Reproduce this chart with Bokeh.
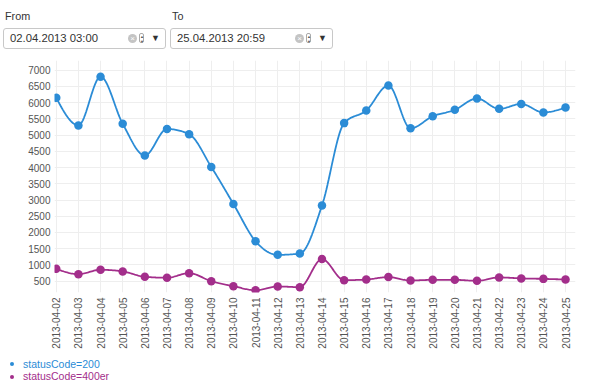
import numpy as np
import pandas as pd
from bokeh.plotting import figure
from bokeh.models import FixedTicker, DatetimeTickFormatter, Range1d, Div, ColumnDataSource
from bokeh.layouts import column
from bokeh.embed import file_html
from bokeh.resources import INLINE

# ---------------- data ----------------
dates = ["2013-04-02", "2013-04-03", "2013-04-04", "2013-04-05", "2013-04-06", "2013-04-07",
         "2013-04-08", "2013-04-09", "2013-04-10", "2013-04-11", "2013-04-12", "2013-04-13",
         "2013-04-14", "2013-04-15", "2013-04-16", "2013-04-17", "2013-04-18", "2013-04-19",
         "2013-04-20", "2013-04-21", "2013-04-22", "2013-04-23", "2013-04-24", "2013-04-25"]
status200 = [6150, 5300, 6800, 5350, 4370, 5190, 5030, 4020, 2880, 1730, 1310, 1350,
             2830, 5370, 5760, 6530, 5210, 5580, 5780, 6130, 5810, 5960, 5700, 5850]
status400 = [880, 715, 850, 800, 635, 605, 745, 500, 345, 220, 335, 315,
             1180, 530, 550, 625, 520, 540, 540, 510, 615, 585, 570, 550]
y_ticks = [500, 1000, 1500, 2000, 2500, 3000, 3500, 4000, 4500, 5000, 5500, 6000, 6500, 7000]
series_names = ["statusCode=200", "statusCode=400er"]
from_text = "02.04.2013 03:00"
to_text = "25.04.2013 20:59"

BLUE = "#2b8cd6"
PURPLE = "#a32e8b"
FONT = "Liberation Sans"
DAY = 86400000.0


def monotone_x(xs, ys, n=20):
    """d3 curveMonotoneX style sampling."""
    x = np.asarray(xs, float)
    y = np.asarray(ys, float)
    h = np.diff(x)
    s = np.diff(y) / h
    t = np.zeros(len(x))
    for i in range(1, len(x) - 1):
        h0, h1 = h[i - 1], h[i]
        s0, s1 = s[i - 1], s[i]
        p = (s0 * h1 + s1 * h0) / (h0 + h1)
        t[i] = (np.sign(s0) + np.sign(s1)) * min(abs(s0), abs(s1), 0.5 * abs(p))
    t[0] = (3 * s[0] - t[1]) / 2
    t[-1] = (3 * s[-1] - t[-2]) / 2
    ox, oy = [], []
    for i in range(len(x) - 1):
        u = np.linspace(0, 1, n, endpoint=(i == len(x) - 2))
        hh = h[i]
        h00 = 2 * u**3 - 3 * u**2 + 1
        h10 = u**3 - 2 * u**2 + u
        h01 = -2 * u**3 + 3 * u**2
        h11 = u**3 - u**2
        ox.extend(x[i] + u * hh)
        oy.extend(h00 * y[i] + h10 * hh * t[i] + h01 * y[i + 1] + h11 * hh * t[i + 1])
    return np.array(ox), np.array(oy)


xt = (pd.to_datetime(dates).astype("int64") // 10**6).astype(float).to_numpy()

p = figure(width=598, height=304, x_axis_type="datetime", output_backend="svg",
           toolbar_location=None, min_border_left=54, min_border_right=23,
           min_border_top=8, min_border_bottom=64, margin=0)
p.x_range = Range1d(xt[0] - 0.08 * DAY, xt[-1] + 0.45 * DAY)
p.y_range = Range1d(150, 7300)
p.outline_line_color = None
p.background_fill_color = "white"
p.border_fill_color = "white"

for vals, col in [(status200, BLUE), (status400, PURPLE)]:
    cx, cy = monotone_x(xt, vals)
    p.line(cx, cy, line_color=col, line_width=1.8)
    src = ColumnDataSource(dict(x=xt, y=vals))
    p.scatter("x", "y", source=src, size=8.5, fill_color=col, line_color=col, line_width=0)

# axes
xa = p.xaxis[0]
xa.ticker = FixedTicker(ticks=list(xt))
fmt = "%Y-%m-%d"
xa.formatter = DatetimeTickFormatter(milliseconds=fmt, seconds=fmt, minsec=fmt, minutes=fmt,
                                     hourmin=fmt, hours=fmt, days=fmt, months=fmt, years=fmt)
xa.major_label_orientation = np.pi / 2
xa.major_label_standoff = 5
ya = p.yaxis[0]
ya.ticker = FixedTicker(ticks=y_ticks)
ya.major_label_standoff = 4
for ax in (xa, ya):
    ax.axis_line_color = None
    ax.major_tick_line_color = None
    ax.minor_tick_line_color = None
    ax.major_tick_out = 0
    ax.major_tick_in = 0
    ax.major_label_text_font = FONT
    ax.major_label_text_font_size = "10px"
    ax.major_label_text_color = "#555555"

p.xgrid.ticker = FixedTicker(ticks=list(xt))
p.ygrid.ticker = FixedTicker(ticks=y_ticks)
p.xgrid.grid_line_color = "#eeeeee"
p.ygrid.grid_line_color = "#eeeeee"

# header with date inputs
def field(left, label, text):
    return f"""
<div style="position:absolute;left:{left + 2}px;top:10px;font-size:10.8px;line-height:13px;color:#333;font-family:'{FONT}',Arial,sans-serif;">{label}</div>
<div style="position:absolute;left:{left}px;top:28px;width:163px;height:21px;box-sizing:border-box;border:1px solid #c8c8c8;border-radius:3px;background:#fff;font-family:'{FONT}',Arial,sans-serif;">
  <span style="position:absolute;left:6px;top:3px;font-size:11.3px;line-height:13px;color:#333;">{text}</span>
  <span style="position:absolute;left:124px;top:5px;width:9px;height:9px;border-radius:50%;background:#c4c4c4;color:#fff;font-size:8px;line-height:9px;text-align:center;">&#215;</span>
  <span style="position:absolute;left:135px;top:4px;width:5px;height:10px;border:1px solid #aaa;border-radius:2px;font-size:4px;line-height:5px;color:#555;text-align:center;">&#9650;<br>&#9660;</span>
  <span style="position:absolute;left:147px;top:4px;font-size:9px;line-height:11px;color:#333;">&#9660;</span>
</div>"""


html = ('<div style="position:relative;width:598px;height:52px;">'
        + field(3, "From", from_text) + field(170, "To", to_text) + "</div>")
header = Div(text=html, width=598, height=52, margin=0, styles={"overflow": "visible"})

# legend below the chart
def legend_row(top, text, col):
    return (f'<div style="position:absolute;left:10px;top:{top}px;height:13px;font-family:\'{FONT}\',Arial,sans-serif;">'
            f'<span style="position:absolute;left:0;top:4.5px;width:4px;height:4px;border-radius:50%;background:{col};"></span>'
            f'<span style="position:absolute;left:13px;top:0;font-size:10.5px;line-height:13px;color:{col};white-space:nowrap;">{text}</span></div>')


legend_html = ('<div style="position:relative;width:300px;height:32px;">'
               + legend_row(1.5, series_names[0], BLUE)
               + legend_row(14.2, series_names[1], PURPLE) + "</div>")
legend = Div(text=legend_html, width=300, height=32, margin=0, styles={"overflow": "visible"})

layout = column(header, p, legend, spacing=0)
open("out.html", "w").write(file_html(layout, INLINE))
